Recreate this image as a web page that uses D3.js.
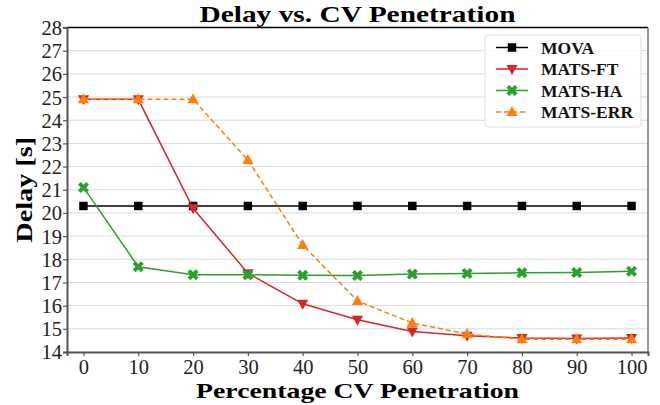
<!DOCTYPE html>
<html>
<head>
<meta charset="utf-8">
<script src="https://cdn.jsdelivr.net/npm/d3@7"></script>
<style>
  body { margin: 0; background: #fff; }
  svg text { font-family: "Liberation Serif", "DejaVu Serif", serif; }
</style>
</head>
<body>
<div id="chart"></div>
<script>
// data
var penetration = [0, 10, 20, 30, 40, 50, 60, 70, 80, 90, 100];
var mova    = [20.3, 20.3, 20.3, 20.3, 20.3, 20.3, 20.3, 20.3, 20.3, 20.3, 20.3];
var matsFT  = [24.9, 24.9, 20.2, 17.4, 16.08, 15.39, 14.88, 14.7, 14.6, 14.58, 14.6];
var matsHA  = [21.1, 17.68, 17.33, 17.33, 17.31, 17.3, 17.36, 17.39, 17.42, 17.43, 17.48];
var matsERR = [24.9, 24.9, 24.9, 22.28, 18.62, 16.2, 15.25, 14.78, 14.55, 14.55, 14.55];
var xTicks = [0, 10, 20, 30, 40, 50, 60, 70, 80, 90, 100];
var yTicks = [14, 15, 16, 17, 18, 19, 20, 21, 22, 23, 24, 25, 26, 27, 28];

var series = [
  { name: "MOVA",     values: mova,    color: "#000000", marker: "square",  dash: null },
  { name: "MATS-FT",  values: matsFT,  color: "#d62728", marker: "tridown", dash: null },
  { name: "MATS-HA",  values: matsHA,  color: "#2ca02c", marker: "x",       dash: null },
  { name: "MATS-ERR", values: matsERR, color: "#ff7f0e", marker: "triup",   dash: "5,3" }
];

var W = 660, H = 405;
var margin = { top: 27.5, right: 12, bottom: 53, left: 67 },
    width = W - margin.left - margin.right,
    height = H - margin.top - margin.bottom;

var svg = d3.select("#chart").append("svg")
    .attr("width", W)
    .attr("height", H);

var g = svg.append("g")
    .attr("transform", "translate(" + margin.left + "," + margin.top + ")");

var x = d3.scaleLinear().domain([-3, 103]).range([0, width]);
var y = d3.scaleLinear().domain([14, 28]).range([height, 0]);

// horizontal grid
g.append("g")
    .selectAll("line")
    .data(yTicks)
    .enter().append("line")
    .attr("x1", 0).attr("x2", width)
    .attr("y1", function (d) { return y(d); })
    .attr("y2", function (d) { return y(d); })
    .attr("stroke", "#d9d9d9")
    .attr("stroke-width", 1);

// marker shapes
function markerPath(type) {
  if (type === "square") return d3.symbol().type(d3.symbolSquare).size(72)();
  if (type === "triup") return "M0,-6L5.6,4L-5.6,4Z";
  if (type === "tridown") return "M0,6L5.6,-4L-5.6,-4Z";
  // filled X like matplotlib 'X'
  var a = 5.5, t = 2.7;
  return "M" + (-a) + "," + (-a + t) + "L" + (-a + t) + "," + (-a) + "L0," + (-t) +
         "L" + (a - t) + "," + (-a) + "L" + a + "," + (-a + t) + "L" + t + ",0" +
         "L" + a + "," + (a - t) + "L" + (a - t) + "," + a + "L0," + t +
         "L" + (-a + t) + "," + a + "L" + (-a) + "," + (a - t) + "L" + (-t) + ",0Z";
}

var line = d3.line()
    .x(function (d) { return x(d[0]); })
    .y(function (d) { return y(d[1]); });

series.forEach(function (s) {
  var pts = penetration.map(function (p, i) { return [p, s.values[i]]; });
  g.append("path")
      .datum(pts)
      .attr("fill", "none")
      .attr("stroke", s.color)
      .attr("stroke-width", 1.5)
      .attr("stroke-dasharray", s.dash)
      .attr("d", line);
  g.append("g")
      .selectAll("path")
      .data(pts)
      .enter().append("path")
      .attr("transform", function (d) { return "translate(" + x(d[0]) + "," + y(d[1]) + ")"; })
      .attr("d", markerPath(s.marker))
      .attr("fill", s.color);
});

// frame
g.append("line").attr("x1", 0).attr("x2", width).attr("y1", 0).attr("y2", 0)
    .attr("stroke", "#000").attr("stroke-width", 1.5);
g.append("line").attr("x1", width).attr("x2", width).attr("y1", 0).attr("y2", height)
    .attr("stroke", "#777").attr("stroke-width", 1.5);

// axes
var xAxis = g.append("g")
    .attr("transform", "translate(0," + height + ")")
    .call(d3.axisBottom(x).tickValues(xTicks).tickSize(4).tickPadding(3));
var yAxis = g.append("g")
    .call(d3.axisLeft(y).tickValues(yTicks).tickSize(4).tickPadding(1));

[xAxis, yAxis].forEach(function (a) {
  a.select(".domain").attr("stroke", "#555").attr("stroke-width", 2);
  a.selectAll(".tick line").attr("stroke", "#555").attr("stroke-width", 1.2);
  a.selectAll(".tick text")
      .attr("fill", "#222")
      .style("font-family", "'Liberation Serif', serif")
      .style("font-size", "20.5px");
});
yAxis.selectAll(".tick text").attr("dy", "0.34em");

// title and axis labels
svg.append("text")
    .attr("x", margin.left + width / 2)
    .attr("y", 22)
    .attr("text-anchor", "middle")
    .attr("textLength", 316)
    .attr("lengthAdjust", "spacingAndGlyphs")
    .style("font-size", "23px")
    .style("font-weight", "bold")
    .text("Delay vs. CV Penetration");

svg.append("text")
    .attr("x", margin.left + width / 2)
    .attr("y", 398)
    .attr("text-anchor", "middle")
    .attr("textLength", 323)
    .attr("lengthAdjust", "spacingAndGlyphs")
    .style("font-size", "21px")
    .style("font-weight", "bold")
    .text("Percentage CV Penetration");

svg.append("text")
    .attr("transform", "translate(32," + (margin.top + height / 2) + ") rotate(-90)")
    .attr("text-anchor", "middle")
    .attr("textLength", 106)
    .attr("lengthAdjust", "spacingAndGlyphs")
    .style("font-size", "23px")
    .style("font-weight", "bold")
    .text("Delay [s]");

// legend
var legend = svg.append("g").attr("transform", "translate(485,35)");
legend.append("rect")
    .attr("width", 156).attr("height", 92)
    .attr("rx", 3)
    .attr("fill", "#fff").attr("fill-opacity", 0.85)
    .attr("stroke", "#e0e0e0");

series.forEach(function (s, i) {
  var row = legend.append("g").attr("transform", "translate(0," + (12.5 + i * 21.5) + ")");
  row.append("line")
      .attr("x1", 11).attr("x2", 43)
      .attr("stroke", s.color).attr("stroke-width", 1.5)
      .attr("stroke-dasharray", s.dash);
  row.append("path")
      .attr("transform", "translate(27,0)")
      .attr("d", markerPath(s.marker))
      .attr("fill", s.color);
  row.append("text")
      .attr("x", 56)
      .attr("dy", "0.35em")
      .style("font-size", "17.5px")
      .style("font-weight", "bold")
      .attr("fill", "#111")
      .text(s.name);
});
</script>
</body>
</html>
